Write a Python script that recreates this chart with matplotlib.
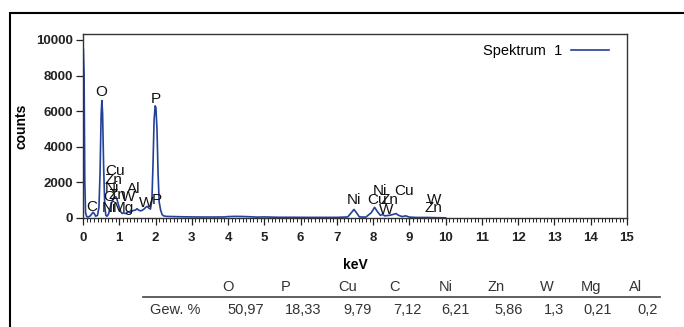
import numpy as np
import matplotlib
matplotlib.use("Agg")
import matplotlib.pyplot as plt
from matplotlib.ticker import MultipleLocator
from matplotlib.patches import Rectangle
from matplotlib.lines import Line2D

plt.rcParams['font.family'] = ['Liberation Sans', 'DejaVu Sans']

# spectrum (keV, counts)
kev = [0.00, 0.01, 0.03, 0.05, 0.07, 0.10, 0.15, 0.20, 0.25, 0.28, 0.31, 0.35,
       0.40, 0.44, 0.47, 0.50, 0.52, 0.54, 0.57, 0.60, 0.63, 0.66, 0.70, 0.74,
       0.78, 0.82, 0.86, 0.90, 0.93, 0.97, 1.00, 1.04, 1.08, 1.12, 1.16, 1.20,
       1.25, 1.30, 1.35, 1.40, 1.45, 1.49, 1.53, 1.58, 1.63, 1.68, 1.73, 1.77,
       1.82, 1.86, 1.90, 1.93, 1.96, 1.99, 2.01, 2.04, 2.07, 2.10, 2.14, 2.18,
       2.22, 2.30, 2.50, 2.70, 3.00, 3.30, 3.60, 3.90, 4.00, 4.20, 4.40, 4.60,
       4.80, 5.00, 5.40, 5.80, 6.20, 6.60, 7.00, 7.30, 7.40, 7.47, 7.54, 7.62,
       7.80, 7.95, 8.04, 8.12, 8.20, 8.26, 8.32, 8.45, 8.55, 8.63, 8.70, 8.80,
       8.90, 9.00, 9.20, 9.50, 9.70, 10.00]
counts = [9400, 9500, 8000, 2000, 300, 80, 60, 120, 250, 320, 250, 100,
          150, 600, 2500, 5800, 6600, 5900, 2800, 700, 150, 100, 200, 500,
          800, 1000, 1150, 1200, 1100, 800, 600, 350, 250, 300, 250, 280,
          350, 300, 400, 420, 450, 520, 450, 400, 430, 500, 600, 650,
          550, 500, 1000, 3000, 5500, 6300, 6200, 5000, 2500, 900, 450, 200,
          120, 90, 80, 70, 60, 55, 55, 60, 80, 90, 85, 70,
          50, 60, 40, 40, 35, 35, 35, 60, 300, 480, 300, 60,
          50, 300, 600, 350, 150, 200, 120, 150, 200, 250, 150, 80,
          120, 50, 30, 30, 20, 10]

# peak labels: text, keV, counts
lab_text = ['O', 'P', 'C', 'Cu', 'Zn', 'Ni', 'O', 'Zn', 'W', 'Al', 'Ni', 'Mg', 'W', 'P',
            'Ni', 'Cu', 'Ni', 'Zn', 'Cu', 'W', 'W', 'Zn']
lab_kev = [0.51, 2.00, 0.25, 0.88, 0.83, 0.80, 0.72, 0.95, 1.24, 1.41, 0.72, 1.10, 1.74, 2.04,
           7.47, 8.12, 8.20, 8.46, 8.85, 8.35, 9.68, 9.65]
lab_cnt = [7100, 6700, 620, 2650, 2150, 1700, 1200, 1300, 1200, 1650, 550, 550, 850, 1000,
           1010, 1010, 1520, 1010, 1520, 450, 1010, 560]

# table
elements = ['O', 'P', 'Cu', 'C', 'Ni', 'Zn', 'W', 'Mg', 'Al']
weights = ['50,97', '18,33', '9,79', '7,12', '6,21', '5,86', '1,3', '0,21', '0,2']

W, H = 684, 327
fig = plt.figure(figsize=(W / 100, H / 100), dpi=100)

def fx(px):
    return px / W

def fy(py):
    return 1 - py / H

ax = fig.add_axes([fx(83), fy(218), fx(627) - fx(83), fy(34) - fy(218)])
ax.plot(kev, counts, color='#23409a', lw=1.2, label='Spektrum  1')
ax.set_xlim(0, 15)
ax.set_ylim(0, 10337)
ax.xaxis.set_major_locator(MultipleLocator(1))
ax.xaxis.set_minor_locator(MultipleLocator(0.1))
ax.yaxis.set_major_locator(MultipleLocator(2000))
ax.tick_params(axis='x', which='major', length=5, width=0.9, direction='out', pad=5)
ax.tick_params(axis='x', which='minor', length=3, width=0.6, direction='out')
ax.tick_params(axis='y', which='major', length=5, width=0.9, direction='out', pad=2)
ax.tick_params(labelsize=9.5, colors='#222222')
for t in ax.get_xticklabels() + ax.get_yticklabels():
    t.set_fontweight('bold')
for s in ax.spines.values():
    s.set_linewidth(1.0)
    s.set_color('#333333')

for t, x, y in zip(lab_text, lab_kev, lab_cnt):
    ax.text(x, y, t, fontsize=11, ha='center', va='center', color='#111111')

ax.set_ylabel('counts', fontsize=10, fontweight='bold', labelpad=6)
ax.set_xlabel('keV', fontsize=10, fontweight='bold', labelpad=10)

ax.legend(loc='upper right', frameon=False, markerfirst=False, fontsize=10.5,
          handlelength=2.6, handletextpad=0.6, borderaxespad=0.3,
          bbox_to_anchor=(0.985, 1.0))

# outer frame
fig.patches.append(Rectangle((fx(9.5), fy(400)), 2, fy(12.5) - fy(400),
                             transform=fig.transFigure, fill=False,
                             edgecolor='black', lw=1.5))

# table below the chart
col_start = [215, 274, 331, 382, 432, 480, 533, 574, 622]
col_end = col_start[1:] + [668]
fig.lines.append(Line2D([fx(143), fx(660)], [fy(297), fy(297)],
                        transform=fig.transFigure, color='#444444', lw=1.2))
fig.text(fx(150), fy(310), 'Gew. %', fontsize=10.5, color='#333333', va='center')
for e, w, x0, x1 in zip(elements, weights, col_start, col_end):
    fig.text(fx(x0 + 7), fy(287), e, fontsize=10.5, color='#333333', va='center')
    fig.text(fx(x1 - 10), fy(310), w, fontsize=10.5, color='#333333', va='center', ha='right')

fig.savefig('out.png', dpi=100)
